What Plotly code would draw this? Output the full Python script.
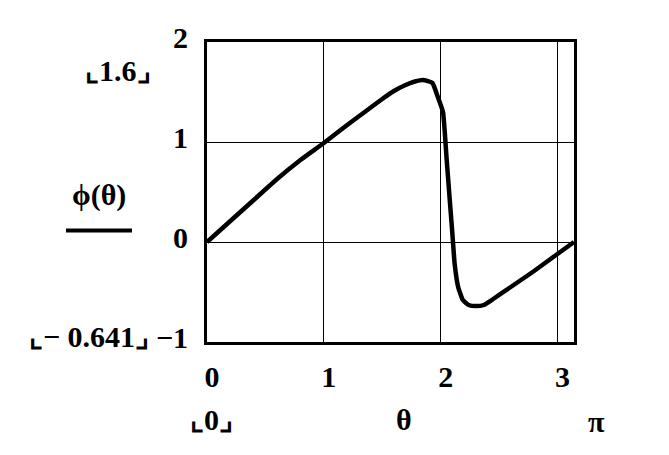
import plotly.graph_objects as go
import math

theta = [0, 0.2, 0.4, 0.6, 0.8, 1.0, 1.2, 1.35, 1.5, 1.6, 1.7, 1.78, 1.85, 1.93, 1.97, 2.02,
         2.05, 2.08, 2.1, 2.12, 2.15, 2.19, 2.24, 2.3, 2.37, 2.45, 2.6, 2.8, 3.0, math.pi]
phi = [0, 0.21, 0.42, 0.63, 0.82, 0.99, 1.17, 1.30, 1.43, 1.51, 1.57, 1.605, 1.62, 1.59, 1.47, 1.30,
       0.85, 0.39, 0.09, -0.22, -0.45, -0.58, -0.63, -0.641, -0.63, -0.57, -0.45, -0.29, -0.12, 0.0]

x_ticks = [0, 1, 2, 3]
y_ticks = [-1, 0, 1, 2]

FONT = "Liberation Serif"
OFF = 8  # browser default body margin
W, H = 669 - OFF, 455 - OFF
L, R, T, B = 207 - OFF, 574 - OFF, 39 - OFF, 342 - OFF


def px(x):
    return (x - OFF - L) / (R - L)


def py(y):
    return (B - (y - OFF)) / (B - T)


fig = go.Figure()
fig.add_trace(go.Scatter(x=theta, y=phi, mode="lines", line_shape="spline",
                         line=dict(color="black", width=4.5, smoothing=0.4), showlegend=False,
                         hoverinfo="skip"))

axis_common = dict(showgrid=True, gridcolor="black", gridwidth=1, zeroline=False,
                   showline=True, linecolor="black", linewidth=3, mirror=True,
                   ticks="", tickfont=dict(family=FONT, size=30, color="black", weight="bold"))

fig.update_xaxes(range=[0, math.pi], tickvals=x_ticks, ticktext=[str(v) for v in x_ticks],
                 ticklabelstandoff=6, ticklabelshift=5, **axis_common)
fig.update_yaxes(range=[-1, 2], tickvals=y_ticks, ticktext=[str(v) if v >= 0 else "\u22121" for v in y_ticks],
                 ticklabelstandoff=10, ticklabelshift=-5, **axis_common)

ann_font = dict(family=FONT, size=30, color="black", weight="bold")
annotations = [
    dict(text="\u231e1.6\u231f", x=px(118), y=py(68)),
    dict(text="\u03d5(\u03b8)", x=px(99), y=py(194)),
    dict(text="\u231e\u2212 0.641\u231f", x=px(89), y=py(336)),
    dict(text="\u231e0\u231f", x=px(211), y=py(420)),
    dict(text="\u03b8", x=px(404), y=py(420)),
    dict(text="\u03c0", x=px(596), y=py(422)),
]
for a in annotations:
    fig.add_annotation(xref="paper", yref="paper", showarrow=False,
                       xanchor="center", yanchor="middle", font=ann_font, **a)

fig.add_shape(type="line", xref="paper", yref="paper",
              x0=px(66), x1=px(132), y0=py(229.5), y1=py(229.5),
              line=dict(color="black", width=4))

fig.update_layout(width=W, height=H, margin=dict(l=L, r=W - R, t=T, b=H - B),
                  paper_bgcolor="white", plot_bgcolor="white")

fig.write_html("out.html")
